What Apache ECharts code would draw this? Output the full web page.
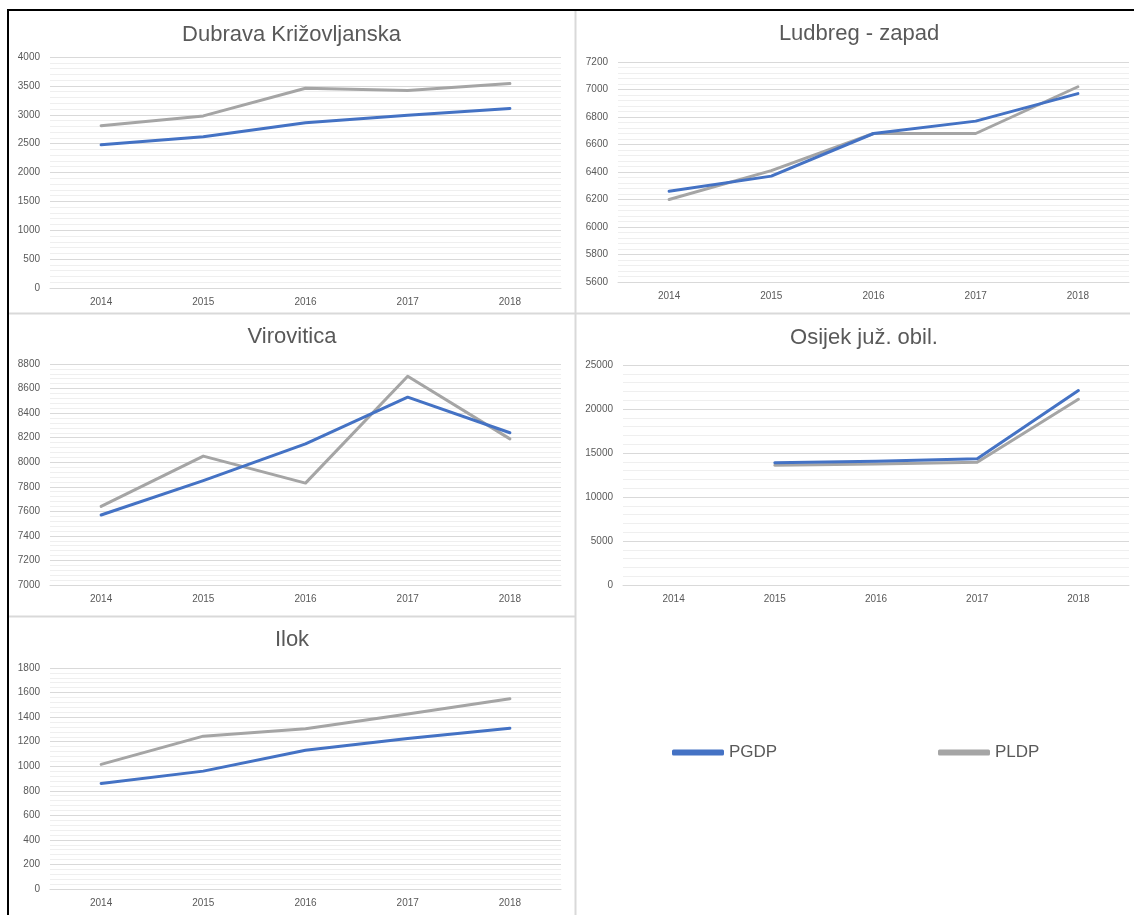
<!DOCTYPE html>
<html>
<head>
<meta charset="utf-8">
<style>
  html, body { margin: 0; padding: 0; background: #ffffff; }
  #chart { width: 1134px; height: 915px; }
</style>
<script src="https://cdn.jsdelivr.net/npm/echarts@6/dist/echarts.min.js"></script>
</head>
<body>
<div id="chart"></div>
<script>
// ---- data ----
const years = ['2014', '2015', '2016', '2017', '2018'];
const seriesNames = ['PGDP', 'PLDP'];
const panelTitles = ['Dubrava Križovljanska', 'Ludbreg - zapad', 'Virovitica', 'Osijek juž. obil.', 'Ilok'];

const dubravaPGDP = [2480, 2620, 2860, 2990, 3110];
const dubravaPLDP = [2810, 2980, 3460, 3420, 3540];
const ludbregPGDP = [6260, 6370, 6680, 6770, 6970];
const ludbregPLDP = [6200, 6410, 6680, 6680, 7020];
const viroviticaPGDP = [7570, 7850, 8150, 8530, 8240];
const viroviticaPLDP = [7640, 8050, 7830, 8700, 8190];
const osijekPGDP = [null, 13900, 14050, 14350, 22100];
const osijekPLDP = [null, 13600, 13750, 13950, 21100];
const ilokPGDP = [860, 960, 1130, 1225, 1310];
const ilokPLDP = [1015, 1245, 1305, 1425, 1550];

const axisMin = [0, 5600, 7000, 0, 0];
const axisMax = [4000, 7200, 8800, 25000, 1800];
const axisStep = [500, 200, 200, 5000, 200];

// ---- layout / style ----
const pgdpData = [dubravaPGDP, ludbregPGDP, viroviticaPGDP, osijekPGDP, ilokPGDP];
const pldpData = [dubravaPLDP, ludbregPLDP, viroviticaPLDP, osijekPLDP, ilokPLDP];
const gridBoxes = [
  { left: 50, right: 573, top: 57, bottom: 627 },
  { left: 618, right: 5, top: 62, bottom: 633 },
  { left: 50, right: 573, top: 364, bottom: 330 },
  { left: 623, right: 5, top: 365, bottom: 330 },
  { left: 50, right: 573, top: 668, bottom: 26 }
];
const titlePos = [[291.5, 24], [859, 23], [292, 325.5], [864, 326.5], [292, 629]];

const BLUE = '#4472C4';
const GRAY = '#A5A5A5';
const TXT = '#595959';
const FONT = '"Liberation Sans", Arial, sans-serif';

const option = {
  backgroundColor: '#ffffff',
  animation: false,
  title: panelTitles.map((t, i) => ({
    text: t,
    left: titlePos[i][0],
    top: titlePos[i][1],
    textAlign: 'center',
    padding: 0,
    textStyle: { fontFamily: FONT, fontSize: 22, fontWeight: 'normal', color: TXT }
  })),
  legend: [
    {
      data: [seriesNames[0]], left: 672, top: 744, padding: 0,
      icon: 'roundRect', itemWidth: 52, itemHeight: 6,
      textStyle: { fontFamily: FONT, fontSize: 17, color: TXT }
    },
    {
      data: [seriesNames[1]], left: 938, top: 744, padding: 0,
      icon: 'roundRect', itemWidth: 52, itemHeight: 6,
      textStyle: { fontFamily: FONT, fontSize: 17, color: TXT }
    }
  ],
  grid: gridBoxes.map(b => Object.assign({ containLabel: false, outerBoundsMode: 'none' }, b)),
  xAxis: gridBoxes.map((b, i) => ({
    type: 'category',
    gridIndex: i,
    data: years,
    boundaryGap: true,
    axisLine: { show: true, lineStyle: { color: '#d9d9d9', width: 1 } },
    axisTick: { show: false },
    axisLabel: { margin: 9, fontFamily: FONT, fontSize: 10, color: TXT },
    splitLine: { show: false }
  })),
  yAxis: gridBoxes.map((b, i) => ({
    type: 'value',
    gridIndex: i,
    min: axisMin[i],
    max: axisMax[i],
    interval: axisStep[i],
    axisLine: { show: false },
    axisTick: { show: false },
    axisLabel: { margin: 10, fontFamily: FONT, fontSize: 10, color: TXT, formatter: v => String(v) },
    splitLine: { show: true, lineStyle: { color: '#d9d9d9', width: 1 } },
    minorTick: { show: false, splitNumber: 5 },
    minorSplitLine: { show: true, lineStyle: { color: '#efefef', width: 1 } }
  })),
  series: [],
  graphic: {
    elements: [
      { type: 'line', z: 100, shape: { x1: 7, y1: 10, x2: 1134, y2: 10 }, style: { stroke: '#000', lineWidth: 2 } },
      { type: 'line', z: 100, shape: { x1: 8, y1: 9, x2: 8, y2: 915 }, style: { stroke: '#000', lineWidth: 2 } },
      { type: 'line', z: 99, shape: { x1: 575.5, y1: 11, x2: 575.5, y2: 915 }, style: { stroke: '#d9d9d9', lineWidth: 2 } },
      { type: 'line', z: 99, shape: { x1: 9, y1: 313.5, x2: 1130, y2: 313.5 }, style: { stroke: '#d9d9d9', lineWidth: 2 } },
      { type: 'line', z: 99, shape: { x1: 9, y1: 616.5, x2: 575, y2: 616.5 }, style: { stroke: '#d9d9d9', lineWidth: 2 } }
    ]
  }
};

gridBoxes.forEach((b, i) => {
  option.series.push({
    name: seriesNames[0], type: 'line', xAxisIndex: i, yAxisIndex: i,
    data: pgdpData[i], symbol: 'none', showSymbol: false, connectNulls: false,
    color: BLUE,
    lineStyle: { color: BLUE, width: 3, cap: 'round', join: 'round' },
    z: 3
  });
  option.series.push({
    name: seriesNames[1], type: 'line', xAxisIndex: i, yAxisIndex: i,
    data: pldpData[i], symbol: 'none', showSymbol: false, connectNulls: false,
    color: GRAY,
    lineStyle: { color: GRAY, width: 3, cap: 'round', join: 'round' },
    z: 2
  });
});

const chart = echarts.init(document.getElementById('chart'), null, { renderer: 'canvas' });
chart.setOption(option);
</script>
</body>
</html>
